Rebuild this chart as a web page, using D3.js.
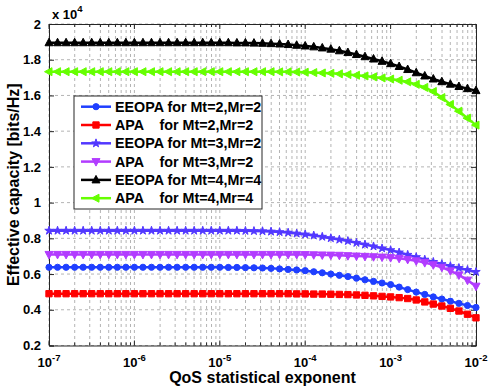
<!DOCTYPE html>
<html>
<head>
<meta charset="utf-8">
<script src="https://cdn.jsdelivr.net/npm/d3@7"></script>
<style>
  html, body { margin: 0; padding: 0; background: #fff; }
  svg { display: block; font-family: "Liberation Sans", Arial, sans-serif; }
</style>
</head>
<body>
<svg id="chart" width="491" height="392"></svg>
<script>
// QoS exponent, as log10 values (0.1 decade steps)
const exponents = [
  -7.0, -6.9, -6.8, -6.7, -6.6, -6.5, -6.4, -6.3, -6.2, -6.1,
  -6.0, -5.9, -5.8, -5.7, -5.6, -5.5, -5.4, -5.3, -5.2, -5.1,
  -5.0, -4.9, -4.8, -4.7, -4.6, -4.5, -4.4, -4.3, -4.2, -4.1,
  -4.0, -3.9, -3.8, -3.7, -3.6, -3.5, -3.4, -3.3, -3.2, -3.1,
  -3.0, -2.9, -2.8, -2.7, -2.6, -2.5, -2.4, -2.3, -2.2, -2.1, -2.0
];

// effective capacity, x 10^4 bits/Hz
const eeopa22 = [
  0.638, 0.638, 0.638, 0.638, 0.638, 0.638, 0.638, 0.638, 0.638, 0.638,
  0.638, 0.638, 0.638, 0.638, 0.638, 0.638, 0.638, 0.638, 0.638, 0.638,
  0.638, 0.637, 0.637, 0.636, 0.635, 0.634, 0.632, 0.629, 0.626, 0.623,
  0.619, 0.613, 0.607, 0.600, 0.593, 0.586, 0.577, 0.568, 0.559, 0.550,
  0.541, 0.527, 0.513, 0.499, 0.486, 0.472, 0.460, 0.448, 0.436, 0.424, 0.413
];
const apa22 = [
  0.490, 0.490, 0.490, 0.490, 0.490, 0.490, 0.490, 0.490, 0.490, 0.490,
  0.490, 0.490, 0.490, 0.490, 0.490, 0.490, 0.490, 0.490, 0.490, 0.490,
  0.490, 0.490, 0.490, 0.490, 0.490, 0.490, 0.490, 0.490, 0.490, 0.489,
  0.489, 0.488, 0.488, 0.487, 0.486, 0.485, 0.483, 0.481, 0.478, 0.475,
  0.472, 0.468, 0.463, 0.455, 0.444, 0.432, 0.421, 0.408, 0.393, 0.375, 0.355
];
const eeopa32 = [
  0.843, 0.843, 0.843, 0.843, 0.843, 0.843, 0.843, 0.843, 0.843, 0.843,
  0.843, 0.843, 0.843, 0.843, 0.843, 0.843, 0.843, 0.843, 0.843, 0.843,
  0.843, 0.843, 0.843, 0.842, 0.841, 0.840, 0.838, 0.835, 0.832, 0.827,
  0.822, 0.816, 0.809, 0.801, 0.793, 0.785, 0.775, 0.765, 0.755, 0.744,
  0.734, 0.721, 0.708, 0.695, 0.681, 0.668, 0.656, 0.645, 0.634, 0.623, 0.612
];
const apa32 = [
  0.710, 0.710, 0.710, 0.710, 0.710, 0.710, 0.710, 0.710, 0.710, 0.710,
  0.710, 0.710, 0.710, 0.710, 0.710, 0.710, 0.710, 0.710, 0.710, 0.710,
  0.710, 0.710, 0.710, 0.710, 0.710, 0.710, 0.710, 0.710, 0.710, 0.710,
  0.709, 0.708, 0.707, 0.706, 0.705, 0.703, 0.701, 0.699, 0.697, 0.695,
  0.692, 0.688, 0.682, 0.674, 0.664, 0.652, 0.638, 0.618, 0.595, 0.566, 0.532
];
const eeopa44 = [
  1.895, 1.895, 1.895, 1.895, 1.895, 1.895, 1.895, 1.895, 1.895, 1.895,
  1.895, 1.895, 1.895, 1.895, 1.895, 1.895, 1.895, 1.895, 1.895, 1.895,
  1.895, 1.895, 1.894, 1.894, 1.893, 1.892, 1.890, 1.888, 1.885, 1.881,
  1.877, 1.872, 1.866, 1.859, 1.850, 1.840, 1.829, 1.817, 1.804, 1.791,
  1.778, 1.762, 1.745, 1.727, 1.709, 1.692, 1.677, 1.663, 1.650, 1.638, 1.627
];
const apa44 = [
  1.733, 1.733, 1.733, 1.733, 1.733, 1.733, 1.733, 1.733, 1.733, 1.733,
  1.733, 1.733, 1.733, 1.733, 1.733, 1.733, 1.733, 1.733, 1.733, 1.733,
  1.733, 1.733, 1.733, 1.733, 1.733, 1.733, 1.733, 1.732, 1.732, 1.731,
  1.730, 1.728, 1.726, 1.724, 1.721, 1.717, 1.713, 1.709, 1.704, 1.698,
  1.692, 1.685, 1.676, 1.662, 1.645, 1.622, 1.588, 1.550, 1.512, 1.473, 1.434
];

const legendLabels = [
  'EEOPA for Mt=2,Mr=2',
  'APA    for Mt=2,Mr=2',
  'EEOPA for Mt=3,Mr=2',
  'APA    for Mt=3,Mr=2',
  'EEOPA for Mt=4,Mr=4',
  'APA    for Mt=4,Mr=4'
];
const yTicks = [0.2, 0.4, 0.6, 0.8, 1, 1.2, 1.4, 1.6, 1.8, 2];
const xDecades = [-7, -6, -5, -4, -3, -2];

const series = [
  { values: eeopa22, color: '#1f3fff', marker: 'circle' },
  { values: apa22,   color: '#ff0000', marker: 'square' },
  { values: eeopa32, color: '#5238ff', marker: 'star' },
  { values: apa32,   color: '#b23cff', marker: 'down' },
  { values: eeopa44, color: '#000000', marker: 'up' },
  { values: apa44,   color: '#66ff00', marker: 'left' }
];

const svg = d3.select('#chart');
const margin = { top: 24, right: 15, bottom: 46.5, left: 49 };
const W = 491, H = 392;
const width = W - margin.left - margin.right;
const height = H - margin.top - margin.bottom;

const g = svg.append('g')
  .attr('transform', `translate(${margin.left},${margin.top})`);

// Skalen
const xScale = d3.scaleLog()
  .domain([1e-7, 1e-2])
  .range([0, width]);
const yScale = d3.scaleLinear()
  .domain([0.2, 2])
  .range([height, 0]);

// Gitter (log: Haupt- und Nebenteilung)
const xGridVals = [];
xDecades.forEach(e => {
  for (let m = 1; m <= 9; m++) {
    const v = m * Math.pow(10, e);
    if (v <= 1e-2 * 1.0001) xGridVals.push(v);
  }
});

g.selectAll('.xgrid')
  .data(xGridVals)
  .enter()
  .append('line')
  .attr('x1', d => xScale(d))
  .attr('x2', d => xScale(d))
  .attr('y1', 0)
  .attr('y2', height)
  .style('stroke', '#b4b4b4')
  .style('stroke-dasharray', '3,3');

g.selectAll('.ygrid')
  .data(yTicks)
  .enter()
  .append('line')
  .attr('x1', 0)
  .attr('x2', width)
  .attr('y1', d => yScale(d))
  .attr('y2', d => yScale(d))
  .style('stroke', '#b4b4b4')
  .style('stroke-dasharray', '3,3');

// Achsen (Ticks nach innen wie MATLAB)
const yAxis = d3.axisLeft(yScale).tickValues(yTicks).tickSize(-5).tickPadding(8)
  .tickFormat(d => d3.format('~g')(d));
const yAxisR = d3.axisRight(yScale).tickValues(yTicks).tickSize(-5).tickFormat('');
const xAxis = d3.axisBottom(xScale).tickValues(xGridVals).tickSize(0).tickFormat('');
const xAxisT = d3.axisTop(xScale).tickValues(xGridVals).tickSize(0).tickFormat('');

const ya = g.append('g').call(yAxis);
ya.selectAll('text')
  .style('font-size', '13px')
  .style('font-weight', 'bold')
  .style('fill', '#000');
g.append('g').attr('transform', `translate(${width},0)`).call(yAxisR);
g.append('g').attr('transform', `translate(0,${height})`).call(xAxis);
g.append('g').call(xAxisT);
g.selectAll('.domain').style('stroke', '#262626');
g.selectAll('.tick line').style('stroke', '#262626');

// log-Ticks oben und unten
const isMajor = v => xDecades.some(e => Math.abs(v - Math.pow(10, e)) < 1e-12);
g.selectAll('.xtick-b')
  .data(xGridVals)
  .enter()
  .append('line')
  .attr('x1', d => xScale(d))
  .attr('x2', d => xScale(d))
  .attr('y1', height)
  .attr('y2', d => height - (isMajor(d) ? 5 : 3))
  .style('stroke', '#262626');
g.selectAll('.xtick-t')
  .data(xGridVals)
  .enter()
  .append('line')
  .attr('x1', d => xScale(d))
  .attr('x2', d => xScale(d))
  .attr('y1', 0)
  .attr('y2', d => (isMajor(d) ? 5 : 3))
  .style('stroke', '#262626');

// x-Tick-Beschriftungen 10^e
xDecades.forEach(e => {
  const t = g.append('text')
    .attr('x', xScale(Math.pow(10, e)))
    .attr('y', height + 21)
    .attr('text-anchor', 'middle')
    .style('font-size', '13px')
    .style('font-weight', 'bold');
  t.append('tspan').text('10');
  t.append('tspan')
    .attr('dy', -6)
    .style('font-size', '9.5px')
    .text(String(e));
});

// Faktor x 10^4
const mult = g.append('text')
  .attr('x', 3)
  .attr('y', -5)
  .style('font-size', '13px')
  .style('font-weight', 'bold');
mult.append('tspan').text('x 10');
mult.append('tspan').attr('dy', -7).style('font-size', '9.5px').text('4');

// Achsentitel
svg.append('text')
  .attr('x', margin.left + width / 2)
  .attr('y', 383)
  .attr('text-anchor', 'middle')
  .style('font-size', '16px')
  .style('font-weight', 'bold')
  .text('QoS statistical exponent');

svg.append('text')
  .attr('transform', `translate(19,${margin.top + height / 2}) rotate(-90)`)
  .attr('text-anchor', 'middle')
  .style('font-size', '16px')
  .style('font-weight', 'bold')
  .text('Effective capacity [bits/Hz]');

// Marker
function markerPath(type) {
  switch (type) {
    case 'circle': return d3.symbol(d3.symbolCircle, 30)();
    case 'square': return d3.symbol(d3.symbolSquare, 40)();
    case 'star': return d3.symbol(d3.symbolStar, 22)();
    case 'up': return 'M0,-4.5L4,3L-4,3Z';
    case 'down': return 'M0,4.5L4,-3L-4,-3Z';
    case 'left': return 'M-4.5,0L3,-4L3,4Z';
  }
  return '';
}

// Linien
const line = d3.line()
  .x((d, i) => xScale(Math.pow(10, exponents[i])))
  .y(d => yScale(d));

series.forEach(s => {
  g.append('path')
    .datum(s.values)
    .attr('d', line)
    .style('fill', 'none')
    .style('stroke', s.color)
    .style('stroke-width', 2.5);

  g.selectAll(null)
    .data(s.values)
    .enter()
    .append('path')
    .attr('d', markerPath(s.marker))
    .attr('transform', (d, i) =>
      `translate(${xScale(Math.pow(10, exponents[i]))},${yScale(d)})`)
    .style('fill', s.color)
    .style('stroke', s.color)
    .style('stroke-width', 1);
});

// Legende
const legend = svg.append('g').attr('transform', 'translate(74,96)');
legend.append('rect')
  .attr('width', 188)
  .attr('height', 113)
  .style('fill', '#fff')
  .style('stroke', '#262626');

series.forEach((s, i) => {
  const item = legend.append('g')
    .attr('transform', `translate(0,${10.7 + i * 18.3})`);
  item.append('line')
    .attr('x1', 7)
    .attr('x2', 37)
    .style('stroke', s.color)
    .style('stroke-width', 2.5);
  item.append('path')
    .attr('d', markerPath(s.marker))
    .attr('transform', 'translate(22,0)')
    .style('fill', s.color)
    .style('stroke', s.color)
    .style('stroke-width', 1);
  item.append('text')
    .attr('x', 41)
    .attr('y', 5)
    .style('font-size', '14.3px')
    .style('font-weight', 'bold')
    .style('white-space', 'pre')
    .text(legendLabels[i]);
});
</script>
</body>
</html>
